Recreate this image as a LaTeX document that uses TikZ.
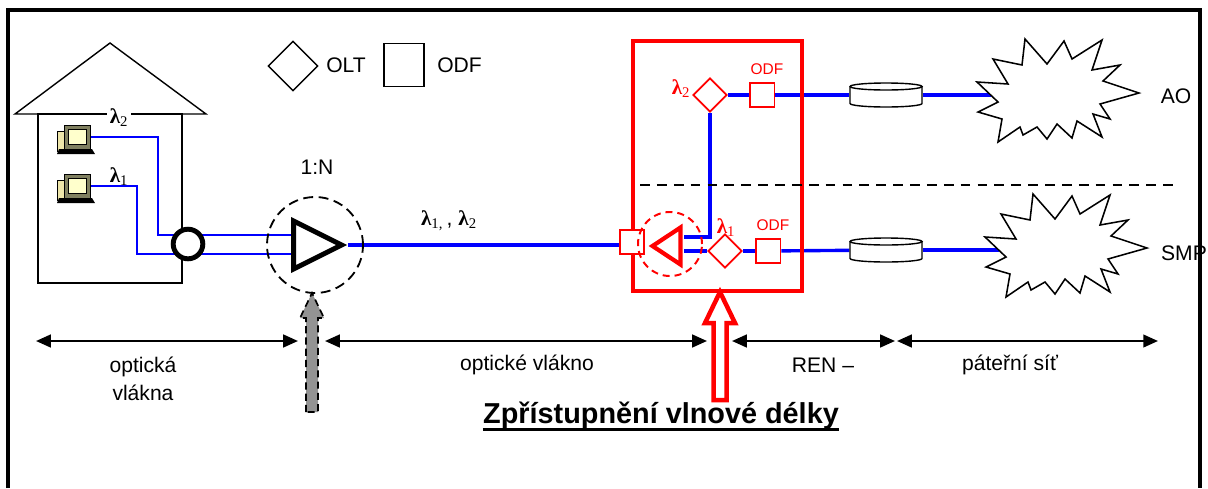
\documentclass[tikz,border=0pt]{standalone}
\usepackage{fontspec}
\setmainfont{Liberation Sans}
\newfontfamily\lamfont{Liberation Serif}
\usetikzlibrary{shapes.geometric,arrows.meta,backgrounds}
\definecolor{pcbeige}{RGB}{238,230,170}
\definecolor{pcframe}{RGB}{128,128,96}
\definecolor{pcscreen}{RGB}{255,255,204}
\newcommand{\lam}[1]{{\lamfont\bfseries λ\textsubscript{\mdseries #1}}}

\tikzset{
  pc/.pic={
    \draw[fill=pcbeige] (0,6) rectangle (8,26);
    \draw[fill=pcframe] (7,0) rectangle (33,24);
    \draw[fill=pcscreen] (11,4) rectangle (29,19);
    \fill (2,24) -- (35,24) -- (38,29) -- (0,29) -- cycle;
    \coordinate (-port) at (33,12);
  },
  drumpic/.pic={
    \draw[line width=1pt,fill=white] (-36,-8.5) -- (-36,8.5) arc[start angle=180,end angle=0,x radius=36,y radius=3.5]
      -- (36,-8.5);
    \draw[line width=1pt,fill=white] (0,-8.5) ellipse[x radius=36,y radius=3.5];
  },
  burst/.pic={
    \draw[line width=1.1pt,fill=white] (60,7) -- (82,32) -- (99,9) -- (107,27) -- (137,8) -- (127,38)
      -- (155,33) -- (138,49) -- (174,61) -- (135,72) -- (145,87) -- (128,82) -- (137,105)
      -- (112,89) -- (107,106) -- (92,92) -- (82,107) -- (72,95) -- (58,103) -- (55,95)
      -- (33,110) -- (37,87) -- (13,80) -- (33,70) -- (12,50) -- (43,52) -- (28,27) -- (57,33) -- cycle;
    \coordinate (-in) at (26,63);
  }
}

\begin{document}
\begin{tikzpicture}[x=0.025cm,y=-0.025cm,
  every node/.style={inner sep=0pt},
  txt/.style={font=\fontsize{15}{20}\selectfont},
  redtxt/.style={font=\fontsize{11}{13}\selectfont,red},
  lamtxt/.style={font=\fontsize{15}{18}\selectfont},
  fiber/.style={blue,line width=2.4pt},
  thinfiber/.style={blue,line width=1.4pt},
  olt/.style={diamond,draw,line width=1pt,minimum size=1.25cm},
  odf/.style={draw,line width=1pt,minimum width=1cm,minimum height=1.07cm},
  redolt/.style={diamond,draw=red,line width=1.3pt,fill=white,minimum size=0.85cm},
  redodf/.style={draw=red,line width=1.3pt,fill=white,minimum width=0.62cm,minimum height=0.6cm},
  drum/.style={minimum width=1.82cm,minimum height=0.6cm},
  span/.style={line width=1.6pt,{Triangle[length=10.5pt,width=9pt]}-{Triangle[length=10.5pt,width=9pt]}}]

  \useasboundingbox (0,0) rectangle (1208,488);
  \draw[line width=2.8pt] (8,488) -- (8,10) -- (1200,10) -- (1200,488);

  \draw[line width=1pt] (38,114) rectangle (182,283);
  \draw[line width=1pt] (15,114) -- (110,43) -- (206,114) -- cycle;
  \pic (pcA) at (57,125) {pc};
  \pic (pcB) at (57,174) {pc};
  \node[lamtxt,fill=white,inner sep=2pt] (lamHouseB) at (119,118) {\lam{2}};
  \node[lamtxt] (lamHouseA) at (119,177) {\lam{1}};
  \node[circle,draw,line width=3.5pt,fill=white,minimum size=0.74cm] (ring) at (188,244) {};
  \coordinate (jA) at (158,235);
  \coordinate (jB) at (137,254);

  \node[olt] (legOlt) at (293,66) {};
  \node[txt,anchor=west] (legOltTxt) at (326,65) {OLT};
  \node[odf] (legOdf) at (404,65) {};
  \node[txt,anchor=west] (legOdfTxt) at (437,65) {ODF};

  \node[isosceles triangle,isosceles triangle stretches,draw,line width=3.5pt,fill=white,
    minimum width=1.2cm,minimum height=1.2cm,anchor=apex] (split) at (348,245) {};
  \node[circle,draw,line width=1.3pt,dash pattern=on 7pt off 4pt,minimum size=2.4cm] (splitRing) at (315,245) {};
  \node[txt] (ratio) at (317,167) {1:N};
  \node[lamtxt] (lamMain) at (449,221) {\lam{1,}\,, \lam{2}};

  \node[draw=red,line width=2.8pt,minimum width=4.225cm,minimum height=6.25cm] (renbox) at (717.5,166) {};
  \node[redodf,minimum width=0.6cm] (inOdf) at (632,242) {};
  \node[isosceles triangle,isosceles triangle stretches,shape border rotate=180,draw=red,line width=3pt,fill=white,
    minimum width=0.925cm,minimum height=0.7cm,anchor=apex] (tap) at (647,246) {};
  \coordinate (tapA) at (684,237);
  \coordinate (tapB) at (684,251);
  \node[redolt] (oltA) at (710,95) {};
  \node[redolt] (oltB) at (725,251) {};
  \node[redodf] (odfA) at (762,95) {};
  \node[redodf] (odfB) at (768,251) {};
  \node[lamtxt,red] (lamRedB) at (681,89) {\lam{2}};
  \node[lamtxt,red] (lamRedA) at (726,228) {\lam{1}};
  \node[redtxt] (odfTxtA) at (767,69) {ODF};
  \node[redtxt] (odfTxtB) at (773,225) {ODF};
  \node[circle,draw=red,line width=1.4pt,dash pattern=on 5pt off 3.5pt,minimum size=1.6cm] (tapRing) at (670,244) {};

  \draw[line width=1.4pt,dash pattern=on 7pt off 5pt] (640,185) -- (1175,185);

  \node[drum] (drumA) at (886,95) {};
  \node[drum] (drumB) at (886,250) {};
  \pic at (drumA) {drumpic};
  \pic at (drumB) {drumpic};
  \pic (cloudA) at (965,32) {burst};
  \pic (cloudB) at (973,187) {burst};
  \node[txt] (ao) at (1176,96) {AO};
  \node[txt] (smp) at (1184,253) {SMP};

  \begin{scope}[on background layer]
    \draw[thinfiber] (pcA-port) -| (jA) -- (jA -| split.west);
    \draw[thinfiber] (pcB-port) -| (jB) -- (jB -| split.west);
    \draw[fiber] (split.apex) -- (split.apex -| inOdf.west);
    \draw[fiber] (oltA.south) |- (tapA);
    \draw[fiber] (tapB) -- (oltB);
    \draw[fiber] (oltA) -- (odfA);
    \draw[fiber] (oltB) -- (odfB);
    \draw[fiber] (odfA) -- (drumA);
    \draw[fiber] (odfB) -- (drumB);
    \draw[fiber] (drumA) -- (cloudA-in);
    \draw[fiber] (drumB) -- (cloudB-in);
  \end{scope}

  \draw[line width=1.2pt,dash pattern=on 5pt off 3pt,fill=gray!85] (306,412) -- (306,318) -- (300,318)
    -- (312,293) -- (324,318) -- (318,318) -- (318,412) -- cycle;
  \draw[red,line width=3.2pt,fill=white] (713.5,400) -- (713.5,323) -- (705,323)
    -- (720,292) -- (735,323) -- (726.5,323) -- (726.5,400) -- cycle;

  \coordinate (sA) at (36,341);
  \coordinate (sB) at (298,341);
  \coordinate (sC) at (325,341);
  \coordinate (sD) at (707,341);
  \coordinate (sE) at (732,341);
  \coordinate (sF) at (895,341);
  \coordinate (sG) at (897,341);
  \coordinate (sH) at (1158,341);
  \draw[span] (sA) -- (sB);
  \draw[span] (sC) -- (sD);
  \draw[span] (sE) -- (sF);
  \draw[span] (sG) -- (sH);
  \node[txt,align=center] (spanTxtA) at (143,379) {optická\\vlákna};
  \node[txt] (spanTxtB) at (527,365) {optické vlákno};
  \node[txt] (spanTxtC) at (823,365) {REN –};
  \node[txt] (spanTxtD) at (1010,365) {páteřní síť};

  \node[font=\fontsize{20.5}{24}\selectfont\bfseries,anchor=base] (title) at (661,423) {Zpřístupnění vlnové délky};
  \draw[line width=2.6pt] ([yshift=-4.5pt]title.base west) -- ([yshift=-4.5pt]title.base east);
\end{tikzpicture}
\end{document}
